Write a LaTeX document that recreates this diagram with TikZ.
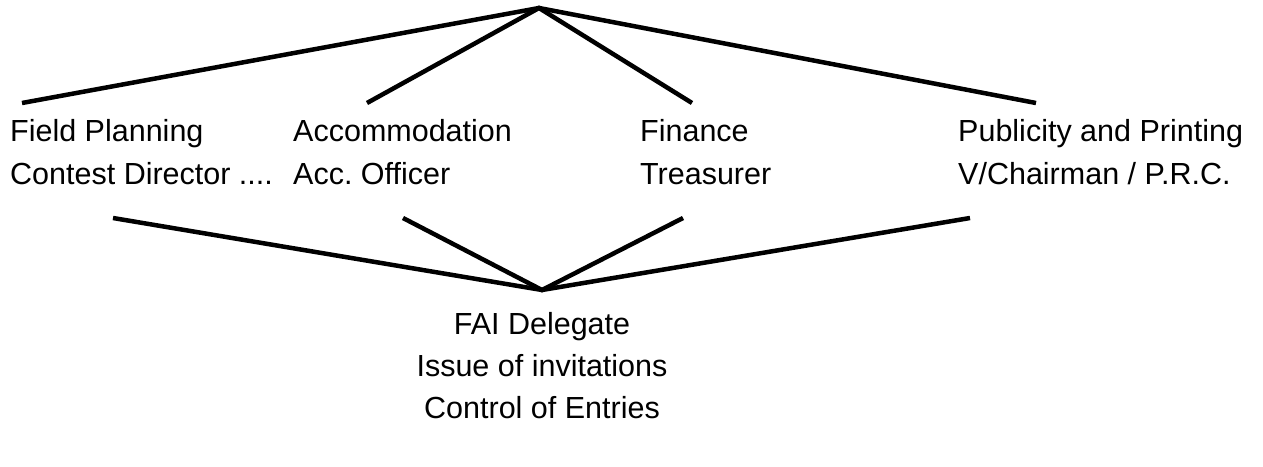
\documentclass[tikz,border=0pt]{standalone}
\usepackage{fontspec}
\setmainfont{Liberation Sans}
\frenchspacing
\begin{document}
\begin{tikzpicture}[x=1pt,y=-1pt,
  lbl/.style={anchor=base west, inner sep=0pt, font=\fontsize{30.5}{36}\selectfont},
  clbl/.style={anchor=base, inner sep=0pt, font=\fontsize{30.5}{36}\selectfont},
  link/.style={line width=4.5pt}]
\useasboundingbox (0,0) rectangle (1263,466);
% top apex and upper ends
\coordinate (top) at (539,8);
\coordinate (t1) at (22,103);
\coordinate (t2) at (367,103);
\coordinate (t3) at (692,103);
\coordinate (t4) at (1036,103);
% bottom apex and lower ends
\coordinate (bot) at (542,290);
\coordinate (b1) at (113,218);
\coordinate (b2) at (403,218);
\coordinate (b3) at (683,218);
\coordinate (b4) at (970,218);
\draw[link] (t1) -- (top) -- (t4);
\draw[link] (t2) -- (top) -- (t3);
\draw[link] (b1) -- (bot) -- (b4);
\draw[link] (b2) -- (bot) -- (b3);
% labels
\node[lbl] (fp) at (10,141) {Field Planning};
\node[lbl] (cd) at (10,184) {Contest Director ....};
\node[lbl] (ac) at (293,141) {Accommodation};
\node[lbl] (ao) at (293,184) {Acc. Officer};
\node[lbl] (fi) at (640,141) {Finance};
\node[lbl] (tr) at (640,184) {Treasurer};
\node[lbl] (pp) at (958,141) {Publicity and Printing};
\node[lbl] (vc) at (958,184) {V/Chairman / P.R.C.};
\node[clbl] (fai) at (542,334) {FAI Delegate};
\node[clbl] (inv) at (542,376) {Issue of invitations};
\node[clbl] (ent) at (542,418) {Control of Entries};
\end{tikzpicture}
\end{document}
